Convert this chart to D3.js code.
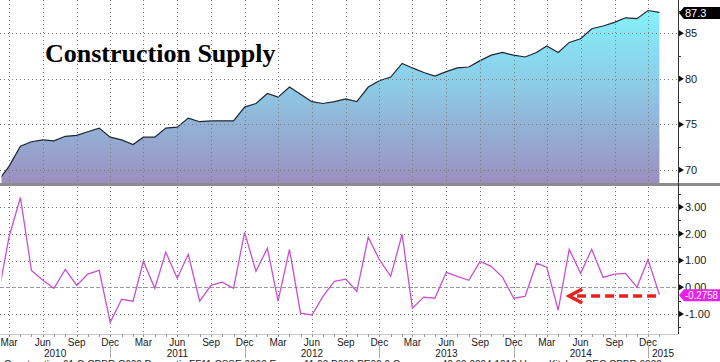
<!DOCTYPE html>
<meta charset="utf-8">
<style>
body { margin: 0; background: #fff; }
svg { display: block; }
.grid line { stroke: #7a7a7a; stroke-dasharray: 1,3; stroke-width: 1; }
.zero { stroke: #9a9a9a; stroke-dasharray: 4,2; stroke-width: 1; }
.axlbl { font-family: "Liberation Sans", Arial, sans-serif; font-size: 11px; fill: #1a1a1a; }
.mlbl { font-family: "Liberation Sans", Arial, sans-serif; font-size: 10px; fill: #1a1a1a; }
.title { font-family: "Liberation Serif", "Times New Roman", serif; font-size: 26px; font-weight: bold; fill: #000; }
</style>
<svg width="720" height="362"></svg>
<script src="https://d3js.org/d3.v7.min.js"></script>
<script>

// monthly, Feb 2010 .. Jan 2015
var months = d3.timeMonth.range(new Date(2010, 1, 1), new Date(2015, 1, 1));

// Construction supply index
var supply = [
  68.9, 70.4, 72.6, 73.1, 73.3, 73.2, 73.7, 73.8, 74.2, 74.6, 73.6,
  73.3, 72.8, 73.6, 73.6, 74.6, 74.7, 75.7, 75.3, 75.4, 75.4, 75.4, 76.9,
  77.3, 78.4, 78.0, 79.1, 78.3, 77.5, 77.3, 77.5, 77.8, 77.5, 79.1, 79.8,
  80.2, 81.7, 81.2, 80.7, 80.3, 80.8, 81.2, 81.3, 82.0, 82.6, 82.9, 82.6,
  82.4, 82.9, 83.6, 82.9, 84.0, 84.4, 85.5, 85.8, 86.2, 86.7, 86.6, 87.5,
  87.3
];

// month over month % change
var change = [
  -0.2, 1.87, 3.36, 0.63, 0.26, -0.04, 0.67, 0.07, 0.49, 0.63, -1.31,
  -0.45, -0.52, 0.97, -0.04, 1.31, 0.34, 1.23, -0.52, 0.07, 0.19, -0.04, 2.05,
  0.60, 1.46, -0.52, 1.42, -0.97, -1.04, -0.34, 0.22, 0.30, -0.15, 1.87, 1.04,
  0.41, 1.98, -0.78, -0.37, -0.41, 0.56, 0.41, 0.26, 0.97, 0.78, 0.37, -0.41,
  -0.34, 0.90, 0.75, -0.86, 1.42, 0.52, 1.42, 0.37, 0.49, 0.52, 0.0, 1.04,
  -0.2758
];

var topTicks = [70, 75, 80, 85];
var botTicks = [-1, 1, 2, 3];
var monthNames = ["Jan","Feb","Mar","Apr","May","Jun","Jul","Aug","Sep","Oct","Nov","Dec"];
var years = [2010, 2011, 2012, 2013, 2014, 2015];

var svg = d3.select("svg");
var axisX = 678;

var x = d3.scaleTime()
    .domain([new Date(2010, 2, 1), new Date(2014, 11, 1)])
    .range([9, 648]);
var yTop = d3.scaleLinear().domain([70, 85]).range([170, 33.3]);
var yBot = d3.scaleLinear().domain([-1, 3]).range([314, 207]);

var topData = months.map(function(m, i) { return {d: m, v: supply[i]}; });
var botData = months.map(function(m, i) { return {d: m, v: change[i]}; });
var quarters = d3.timeMonth.range(new Date(2010, 2, 1), new Date(2015, 0, 1), 3);

var defs = svg.append("defs");
var grad = defs.append("linearGradient")
    .attr("id", "fill").attr("gradientUnits", "userSpaceOnUse")
    .attr("x1", 0).attr("y1", 5).attr("x2", 0).attr("y2", 183);
grad.append("stop").attr("offset", 0).attr("stop-color", "#84f4fb");
grad.append("stop").attr("offset", 0.45).attr("stop-color", "#8ccbe6");
grad.append("stop").attr("offset", 1).attr("stop-color", "#9d8fc0");

defs.append("clipPath").attr("id", "clipTop")
  .append("rect").attr("x", 1.5).attr("y", 0).attr("width", axisX - 1.5).attr("height", 183);
defs.append("clipPath").attr("id", "clipBot")
  .append("rect").attr("x", 1.5).attr("y", 187).attr("width", axisX - 1.5).attr("height", 147);

// ---- top panel
var gTop = svg.append("g").attr("clip-path", "url(#clipTop)");
gTop.append("path")
    .datum(topData)
    .attr("fill", "url(#fill)")
    .attr("d", d3.area().x(function(d) { return x(d.d); }).y0(183).y1(function(d) { return yTop(d.v); }));

var gridTop = svg.append("g").attr("class", "grid");
gridTop.selectAll(".h").data(topTicks).enter().append("line")
    .attr("x1", 0).attr("x2", axisX)
    .attr("y1", function(d) { return Math.round(yTop(d)) + 0.5; })
    .attr("y2", function(d) { return Math.round(yTop(d)) + 0.5; });
gridTop.selectAll(".v").data(quarters).enter().append("line")
    .attr("y1", 0).attr("y2", 183)
    .attr("x1", function(d) { return Math.round(x(d)) + 0.5; })
    .attr("x2", function(d) { return Math.round(x(d)) + 0.5; });

gTop.append("path")
    .datum(topData)
    .attr("fill", "none").attr("stroke", "#1c2633").attr("stroke-width", 1.2)
    .attr("d", d3.line().x(function(d) { return x(d.d); }).y(function(d) { return yTop(d.v); }));

svg.append("rect").attr("x", 0).attr("y", 183).attr("width", 720).attr("height", 3).attr("fill", "#8c8c8c");

// ---- bottom panel
var gridBot = svg.append("g").attr("class", "grid");
gridBot.selectAll(".h").data(botTicks).enter().append("line")
    .attr("x1", 0).attr("x2", axisX)
    .attr("y1", function(d) { return Math.round(yBot(d)) + 0.5; })
    .attr("y2", function(d) { return Math.round(yBot(d)) + 0.5; });
gridBot.selectAll(".v").data(quarters).enter().append("line")
    .attr("y1", 187).attr("y2", 336)
    .attr("x1", function(d) { return Math.round(x(d)) + 0.5; })
    .attr("x2", function(d) { return Math.round(x(d)) + 0.5; });
svg.append("line").attr("class", "zero")
    .attr("x1", 0).attr("x2", axisX)
    .attr("y1", Math.round(yBot(0)) + 0.5).attr("y2", Math.round(yBot(0)) + 0.5);

var gBot = svg.append("g").attr("clip-path", "url(#clipBot)");
gBot.append("path")
    .datum(botData)
    .attr("fill", "none").attr("stroke", "#c94fd2").attr("stroke-width", 1.3)
    .attr("d", d3.line().x(function(d) { return x(d.d); }).y(function(d) { return yBot(d.v); }));

// red dashed arrow
var ay = yBot(-0.33);
var ax0 = x(new Date(2014, 11, 23)), ax1 = x(new Date(2014, 4, 1));
svg.append("line")
    .attr("x1", ax0).attr("x2", ax1 + 6).attr("y1", ay).attr("y2", ay)
    .attr("stroke", "#e8211d").attr("stroke-width", 3.5).attr("stroke-dasharray", "9,5");
svg.append("path")
    .attr("d", "M" + (ax1 + 13) + "," + (ay - 7) + "L" + ax1 + "," + ay + "L" + (ax1 + 13) + "," + (ay + 7))
    .attr("fill", "none").attr("stroke", "#e8211d").attr("stroke-width", 3.5);

// ---- right axis
svg.append("line").attr("x1", axisX + 0.5).attr("x2", axisX + 0.5).attr("y1", 0).attr("y2", 334)
    .attr("stroke", "#333");

function majorTicks(vals, scale, fmt) {
  var g = svg.append("g");
  vals.forEach(function(v, i) {
    var yy = scale(v);
    g.append("path").attr("d", "M" + (axisX + 1) + "," + (yy - 3) + "L" + (axisX + 6) + "," + yy + "L" + (axisX + 1) + "," + (yy + 3) + "Z")
        .attr("fill", "#111");
    g.append("text").attr("class", "axlbl").attr("x", axisX + 7).attr("y", yy).attr("dy", "0.36em").text(fmt(v, i));
  });
}
function minorTicks(vals, scale) {
  vals.forEach(function(v) {
    svg.append("line").attr("x1", axisX).attr("x2", axisX + 3)
        .attr("y1", Math.round(scale(v)) + 0.5).attr("y2", Math.round(scale(v)) + 0.5).attr("stroke", "#333");
  });
}
majorTicks(topTicks, yTop, function(v) { return v; });
minorTicks([72.5, 77.5, 82.5, 87.5], yTop);
majorTicks([3, 2, 1, 0, -1], yBot, function(v) { return d3.format(".2f")(v).replace("\u2212", "-"); });
minorTicks([3.5, 2.5, 1.5, 0.5, -0.5, -1.5], yBot);

// last value boxes
function valueBox(yy, fill, txt) {
  svg.append("path")
      .attr("d", "M" + (axisX + 1) + "," + yy + "L" + (axisX + 6) + "," + (yy - 6) + "L720," + (yy - 6) + "L720," + (yy + 6) + "L" + (axisX + 6) + "," + (yy + 6) + "Z")
      .attr("fill", fill);
  var t = svg.append("text").attr("class", "axlbl").attr("x", axisX + 7).attr("y", yy).attr("dy", "0.36em")
      .style("fill", "#fff").text(txt);
  if (txt.length > 5) t.style("font-size", "10px").attr("textLength", 33).attr("lengthAdjust", "spacingAndGlyphs");
}
valueBox(13, "#000", supply[supply.length - 1].toFixed(1));
valueBox(yBot(change[change.length - 1]) + 0.5, "#e620e6", change[change.length - 1].toFixed(4));

// ---- x axis
svg.append("line").attr("x1", 0).attr("x2", axisX).attr("y1", 334.5).attr("y2", 334.5).attr("stroke", "#c8c8c8");
svg.selectAll(".mt").data(months).enter().append("line")
    .attr("x1", function(d) { return Math.round(x(d)) + 0.5; })
    .attr("x2", function(d) { return Math.round(x(d)) + 0.5; })
    .attr("y1", 334).attr("y2", 337).attr("stroke", "#999");
svg.selectAll(".ml").data(quarters).enter().append("text")
    .attr("class", "mlbl").attr("text-anchor", "middle")
    .attr("x", function(d) { return x(d); }).attr("y", 346)
    .text(function(d) { return monthNames[d.getMonth()]; });

var decs = years.slice(0, 5).map(function(y) { return x(new Date(y, 11, 1)); });
svg.selectAll(".ys").data(decs).enter().append("line")
    .attr("x1", function(d) { return Math.round(d) + 0.5; })
    .attr("x2", function(d) { return Math.round(d) + 0.5; })
    .attr("y1", 345).attr("y2", 358).attr("stroke", "#aaa");
var bounds = [0].concat(decs).concat([axisX]);
svg.selectAll(".yl").data(years).enter().append("text")
    .attr("class", "mlbl").attr("text-anchor", "middle")
    .attr("x", function(d, i) { return (bounds[i] + bounds[i + 1]) / 2; }).attr("y", 357)
    .text(function(d) { return d; });

// footer (cut off at bottom edge, as in the source)
svg.append("text").attr("class", "mlbl").attr("x", 4).attr("y", 368)
    .text("Construction 61 Q CPBR C600 Domestic FF11 CSSE 0000 Energy 11 00 P000 PE00 0 Consumer 40 60 0004 1010 Home Kitchen CEC CPBR 6000");

// title
svg.append("text").attr("class", "title").attr("x", 45).attr("y", 62).text("Construction Supply");

</script>
